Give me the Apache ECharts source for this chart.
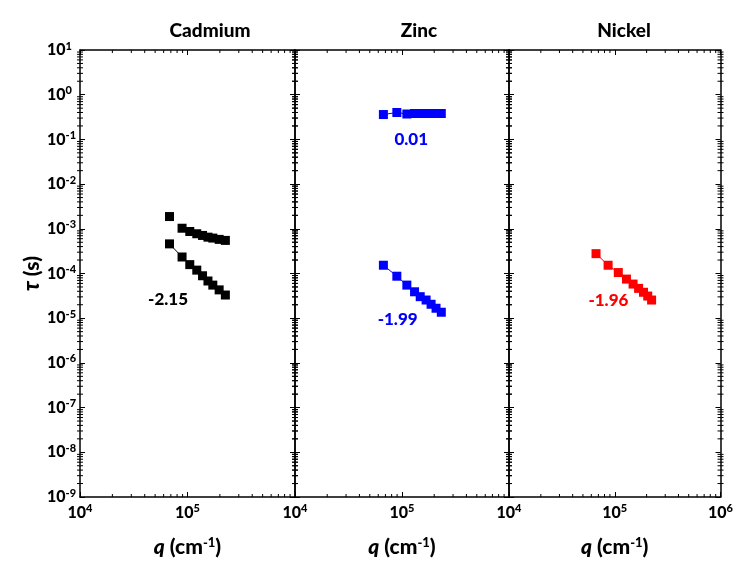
<!DOCTYPE html>
<html><head><meta charset="utf-8">
<script src="https://cdn.jsdelivr.net/npm/echarts@6/dist/echarts.min.js"></script>
<style>html,body{margin:0;padding:0;background:#fff}#c{width:736px;height:563px}</style>
</head><body><div id="c"></div>
<script>
// ---- data ----
const panels = ['Cadmium', 'Zinc', 'Nickel'];
const xTickExp = [4, 5, 6];
const yTickExp = [-9, -8, -7, -6, -5, -4, -3, -2, -1, 0, 1];

const qCd = [6.8e4, 8.9e4, 1.05e5, 1.22e5, 1.38e5, 1.55e5, 1.72e5, 1.97e5, 2.25e5];
const cdUpperTau = [1.88e-3, 1.03e-3, 8.7e-4, 7.75e-4, 7.1e-4, 6.5e-4, 6.2e-4, 5.8e-4, 5.5e-4];
const cdLowerTau = [4.6e-4, 2.34e-4, 1.58e-4, 1.19e-4, 8.9e-5, 6.8e-5, 5.5e-5, 4.3e-5, 3.3e-5];

const qZn = [6.7e4, 8.95e4, 1.11e5, 1.31e5, 1.48e5, 1.68e5, 1.87e5, 2.08e5, 2.33e5];
const znUpperTau = [0.36, 0.40, 0.37, 0.38, 0.38, 0.38, 0.38, 0.38, 0.38];
const znLowerTau = [1.53e-4, 8.7e-5, 5.5e-5, 3.9e-5, 3.03e-5, 2.55e-5, 2.05e-5, 1.67e-5, 1.36e-5];

const qNi = [6.65e4, 8.65e4, 1.08e5, 1.29e5, 1.49e5, 1.68e5, 1.87e5, 2.05e5, 2.23e5];
const niTau = [2.78e-4, 1.53e-4, 1.05e-4, 7.5e-5, 5.8e-5, 4.65e-5, 3.8e-5, 3.13e-5, 2.55e-5];

const slopeText = ['-2.15', '0.01', '-1.99', '-1.96'];
const slopePanel = [0, 1, 1, 2];
const slopeQ = [6.6e4, 1.22e5, 9.1e4, 8.7e4];
const slopeTau = [2.6e-5, 0.1, 9.2e-6, 2.43e-5];

// ---- styles ----
const FONT = 'Lato, "Open Sans", sans-serif';
const panelColor = ['#000000', '#0000ff', '#ff0000'];
const gridLeft = [80, 295, 509];
const gridWidth = [215, 214, 214];
const titleX = [205, 414, 619];

const zip = (xs, ys) => xs.map((x, i) => [x, ys[i]]);
const supLabel = (e) => '{b|10}{s|' + e + '}';
const richTick = {
  b: { fontFamily: FONT, fontWeight: 900, fontSize: 16, color: '#000' },
  s: { fontFamily: FONT, fontWeight: 900, fontSize: 11, color: '#000', verticalAlign: 'bottom', padding: [0, 0, 8, 0] }
};

// minor tick positions (2..9 x 10^n)
const minorY = [];
for (let n = yTickExp[0]; n < yTickExp[yTickExp.length - 1]; n++) for (let k = 2; k <= 9; k++) minorY.push(k * Math.pow(10, n));
const minorX = [];
for (let n = xTickExp[0]; n < xTickExp[xTickExp.length - 1]; n++) for (let k = 2; k <= 9; k++) minorX.push(k * Math.pow(10, n));

const grids = [], xAxes = [], yAxes = [], series = [], titles = [];
panels.forEach((name, i) => {
  grids.push({ left: gridLeft[i], top: 50, width: gridWidth[i], height: 450 });
  titles.push({ text: name, left: titleX[i], top: 16, textAlign: 'center',
    textStyle: { fontFamily: FONT, fontWeight: 900, fontSize: 19, color: '#000' } });
  const axLine = { show: true, lineStyle: { color: '#000', width: 1.5 } };
  const tick = { show: true, inside: true, length: 5, lineStyle: { color: '#000', width: 1 } };
  xAxes.push({
    type: 'log', logBase: 10, gridIndex: i, min: 1e4, max: 1e6, interval: 1,
    axisLine: axLine, axisTick: tick, splitLine: { show: false },
    axisLabel: {
      margin: 6,
      formatter: (v) => {
        const e = Math.round(Math.log10(v));
        if (i < 2 && e === 6) return '';
        return supLabel(e);
      },
      rich: richTick
    },
    name: '{i|q}{n| (cm}{s|-1}{n|)}', nameLocation: 'middle', nameGap: 39,
    nameTextStyle: {
      rich: {
        i: { fontFamily: FONT, fontWeight: 900, fontStyle: 'italic', fontSize: 21, color: '#000' },
        n: { fontFamily: FONT, fontWeight: 900, fontSize: 21, color: '#000', whiteSpace: 'pre' },
        s: { fontFamily: FONT, fontWeight: 900, fontSize: 13, color: '#000', verticalAlign: 'bottom', padding: [0, 0, 10, 0] }
      }
    }
  });
  xAxes.push({
    type: 'log', logBase: 10, gridIndex: i, min: 1e4, max: 1e6, interval: 1, position: 'top',
    axisLine: axLine, axisTick: tick, axisLabel: { show: false }, splitLine: { show: false }
  });
  yAxes.push({
    type: 'log', logBase: 10, gridIndex: i, min: 1e-9, max: 10, interval: 1,
    axisLine: axLine, axisTick: tick, splitLine: { show: false },
    axisLabel: {
      show: i === 0, align: 'left', margin: 33,
      formatter: (v) => supLabel(Math.round(Math.log10(v))),
      rich: richTick
    },
    name: i === 0 ? '{t|τ}{n| (s)}' : '', nameLocation: 'middle', nameRotate: 90, nameGap: 37,
    nameTextStyle: {
      rich: {
        t: { fontFamily: FONT, fontWeight: 900, fontStyle: 'italic', fontSize: 22, color: '#000' },
        n: { fontFamily: FONT, fontWeight: 900, fontSize: 21, color: '#000' }
      }
    }
  });
  yAxes.push({
    type: 'log', logBase: 10, gridIndex: i, min: 1e-9, max: 10, interval: 1, position: 'right',
    axisLine: axLine, axisTick: tick, axisLabel: { show: false }, splitLine: { show: false }
  });

  // minor ticks through the axes' scales
  const tickData = [];
  minorY.forEach(v => { tickData.push([1e4, v, 0]); tickData.push([1e6, v, 0]); });
  minorX.forEach(v => { tickData.push([v, 1e-9, 1]); tickData.push([v, 10, 2]); });
  series.push({
    type: 'custom', xAxisIndex: 2 * i, yAxisIndex: 2 * i, clip: false, silent: true,
    encode: { x: 0, y: 1 }, data: tickData, z: 1,
    renderItem: (params, api) => {
      const p = api.coord([api.value(0), api.value(1)]);
      const t = api.value(2);
      let shape;
      if (t === 0) shape = { x1: p[0] - 3, y1: p[1], x2: p[0] + 3, y2: p[1] };
      else if (t === 1) shape = { x1: p[0], y1: p[1], x2: p[0], y2: p[1] - 3 };
      else shape = { x1: p[0], y1: p[1], x2: p[0], y2: p[1] + 3 };
      return { type: 'line', shape, style: { stroke: '#000', lineWidth: 1 } };
    }
  });
});

function lineSeries(i, data) {
  return {
    type: 'line', xAxisIndex: 2 * i, yAxisIndex: 2 * i, data,
    symbol: 'rect', symbolSize: 9, showAllSymbol: true,
    lineStyle: { color: panelColor[i], width: 1 },
    itemStyle: { color: panelColor[i], opacity: 1 }, z: 5
  };
}
// Cadmium
series.push(lineSeries(0, zip(qCd.slice(1), cdUpperTau.slice(1))));
series.push({ type: 'scatter', xAxisIndex: 0, yAxisIndex: 0, data: [[qCd[0], cdUpperTau[0]]],
  symbol: 'rect', symbolSize: 9, itemStyle: { color: panelColor[0], opacity: 1 }, z: 5 });
series.push(lineSeries(0, zip(qCd, cdLowerTau)));
// Zinc
series.push(lineSeries(1, zip(qZn, znUpperTau)));
series.push(lineSeries(1, zip(qZn, znLowerTau)));
// Nickel
series.push(lineSeries(2, zip(qNi, niTau)));

// slope annotations
slopeText.forEach((t, k) => {
  const i = slopePanel[k];
  series.push({
    type: 'scatter', xAxisIndex: 2 * i, yAxisIndex: 2 * i, data: [[slopeQ[k], slopeTau[k]]],
    symbolSize: 0, silent: true, z: 6, itemStyle: { opacity: 1 },
    label: { show: true, position: 'inside', formatter: t, color: panelColor[i],
      fontFamily: FONT, fontWeight: 900, fontSize: 17 }
  });
});

const chart = echarts.init(document.getElementById('c'), null, { renderer: 'canvas' });
chart.setOption({
  backgroundColor: '#fff', animation: false,
  title: titles, grid: grids, xAxis: xAxes, yAxis: yAxes, series
});
</script></body></html>
